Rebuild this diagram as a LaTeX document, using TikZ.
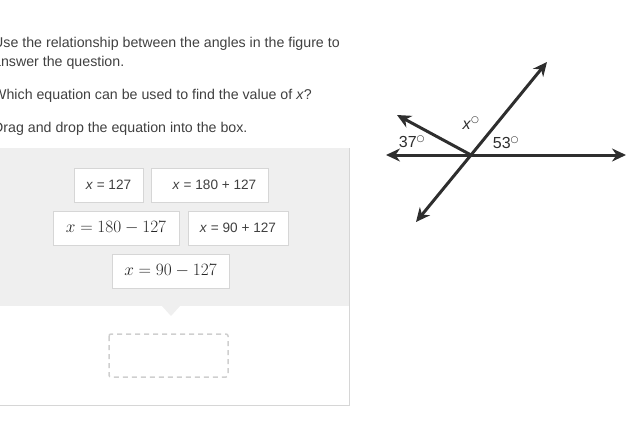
\documentclass[tikz,border=0pt]{standalone}
\usepackage{fontspec}
\setmainfont{Liberation Sans}
\newfontfamily\symfont{DejaVu Sans}
\usetikzlibrary{arrows.meta}

\definecolor{txtgray}{HTML}{404040}
\definecolor{panelgray}{HTML}{EFEFEF}
\definecolor{bordergray}{HTML}{D6D6D6}
\definecolor{dashgray}{HTML}{CFCFCF}
\definecolor{linegray}{HTML}{2E2E2E}

\newcommand{\dg}{\textsuperscript{\symfont\fontsize{9}{9}\selectfont ○}}

\tikzset{
  qtext/.style={anchor=west, text=txtgray, font=\fontsize{14.2}{16}\selectfont, inner sep=0pt},
  tile/.style={draw=bordergray, fill=white, minimum height=34pt, inner sep=0pt, text=txtgray, font=\fontsize{13.6}{15}\selectfont},
  mtile/.style={tile, text=black!85, font=\fontsize{18}{20}\selectfont},
  ray/.style={draw=linegray, line width=3pt, -{Stealth[length=14pt,width=13pt]}},
  lbl/.style={text=linegray, font=\fontsize{16}{18}\selectfont, inner sep=0pt}
}

\begin{document}
\begin{tikzpicture}[x=1pt,y=-1pt]
    \useasboundingbox (0,0) rectangle (642,423);
    \clip (0,0) rectangle (642,423);

    % Câu hỏi
    \node[qtext] (q1) at (-7,44) {Use the relationship between the angles in the figure to};
    \node[qtext] (q2) at (-7,63) {answer the question.};
    \node[qtext] (q3) at (-7,96) {Which equation can be used to find the value of \textit{x}?};
    \node[qtext] (q4) at (-7,129) {Drag and drop the equation into the box.};

    % Khung kéo thả
    \fill[panelgray] (0,148) rectangle (349,306);
    \draw[bordergray] (349,148) -- (349,405) -- (0,405);
    \fill[panelgray] (161,305) -- (181,305) -- (171,316) -- cycle;

    % Các đáp án
    \node[tile, minimum width=69pt] (a1) at (108.5,185) {\textit{x} = 127};
    \node[tile, minimum width=117pt] (a2) at (209.5,185) {\hspace{10pt}\textit{x} = 180 + 127};
    \node[mtile, minimum width=126pt] (a3) at (116,228) {$x=180-127$};
    \node[tile, minimum width=100pt] (a4) at (238,228) {\textit{x} = 90 + 127};
    \node[mtile, minimum width=117pt] (a5) at (170.5,271) {$x=90-127$};

    % Ô trả lời
    \draw[dashgray, line width=1.5pt, dash pattern=on 5pt off 4pt, rounded corners=2pt]
        (109,334) rectangle (228,377);

    % Hình vẽ các góc
    \coordinate (O) at (471,155);
    \coordinate (L) at (386,155);
    \coordinate (R) at (626,155);
    \coordinate (U) at (547,62);
    \coordinate (D) at (416,222);
    \coordinate (P) at (397,115);

    \draw[ray] (O) -- (L);
    \draw[ray] (O) -- (R);
    \draw[ray] (O) -- (U);
    \draw[ray] (O) -- (D);
    \draw[ray] (O) -- (P);

    % Nhãn các góc
    \node[lbl] (g1) at (412,142) {37\dg};
    \node[lbl] (g2) at (471,123) {\textit{x}\dg};
    \node[lbl] (g3) at (506,143) {53\dg};
\end{tikzpicture}
\end{document}
